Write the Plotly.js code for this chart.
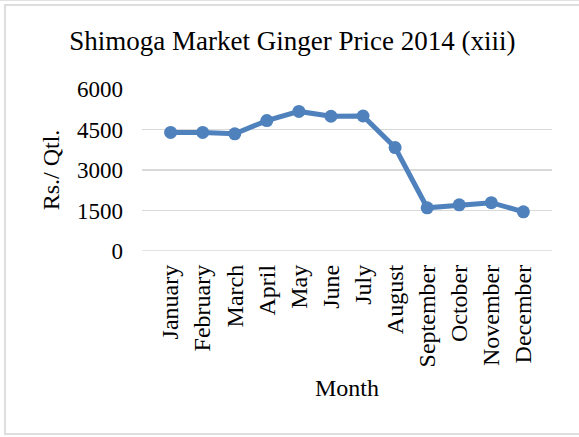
<!DOCTYPE html>
<html>
<head>
<meta charset="utf-8">
<script src="https://cdn.plot.ly/plotly-3.0.1.min.js"></script>
<style>
  html, body { margin: 0; padding: 0; background: #ffffff; }
  #wrap { position: relative; width: 579px; height: 437px; overflow: hidden; }
  #chart { position: absolute; left: 0; top: 0; width: 579px; height: 437px; }
  #topline { position: absolute; left: 0; top: 0; width: 579px; height: 1px; background: #e2e2e2; pointer-events: none; }
  #frame { position: absolute; left: 4px; top: 4px; width: 590px; height: 431px; border: 2px solid #dedede; pointer-events: none; box-sizing: border-box; }
</style>
</head>
<body>
<div id="wrap">
  <div id="chart"></div>
  <div id="topline"></div>
  <div id="frame"></div>
</div>
<script>
const months = ["January", "February", "March", "April", "May", "June", "July", "August", "September", "October", "November", "December"];
const prices = [4390, 4390, 4340, 4830, 5170, 4990, 5000, 3830, 1600, 1710, 1790, 1450];
const yTicks = [0, 1500, 3000, 4500, 6000];

const serif = "Liberation Serif, Times New Roman, serif";

const trace = {
  x: months,
  y: prices,
  type: "scatter",
  mode: "lines+markers",
  line: { color: "#4f81bd", width: 5 },
  marker: { color: "#4f81bd", size: 13 },
  hoverinfo: "x+y"
};

const layout = {
  width: 579,
  height: 437,
  paper_bgcolor: "#ffffff",
  plot_bgcolor: "#ffffff",
  margin: { l: 142, r: 27, t: 89, b: 186, pad: 0 },
  showlegend: false,
  title: {
    text: "Shimoga Market Ginger Price 2014 (xiii)",
    font: { family: serif, size: 27, color: "#000000" },
    xref: "container",
    x: 0.505,
    xanchor: "center",
    yref: "container",
    y: 1 - 41 / 437,
    yanchor: "middle"
  },
  xaxis: {
    type: "category",
    tickangle: -90,
    tickfont: { family: serif, size: 24, color: "#000000" },
    showgrid: false,
    showline: false,
    zeroline: false,
    ticks: "",
    ticklabelstandoff: 8,
    title: {
      text: "Month",
      font: { family: serif, size: 24, color: "#000000" },
      standoff: 12
    }
  },
  yaxis: {
    range: [0, 6000],
    tickvals: yTicks,
    ticktext: yTicks.map(String),
    tickfont: { family: serif, size: 23, color: "#000000" },
    showgrid: true,
    gridcolor: "#d9d9d9",
    gridwidth: 1.5,
    zeroline: false,
    showline: false,
    ticks: "",
    ticklabelstandoff: 18,
    title: {
      text: "Rs./ Qtl.",
      font: { family: serif, size: 24, color: "#000000" },
      standoff: 10
    }
  },
  shapes: [
    { type: "line", xref: "paper", yref: "y", x0: 0, x1: 1, y0: 0, y1: 0,
      line: { color: "#d9d9d9", width: 1.5 }, layer: "below" }
  ]
};

Plotly.newPlot("chart", [trace], layout, { displayModeBar: false, staticPlot: true });
</script>
</body>
</html>
